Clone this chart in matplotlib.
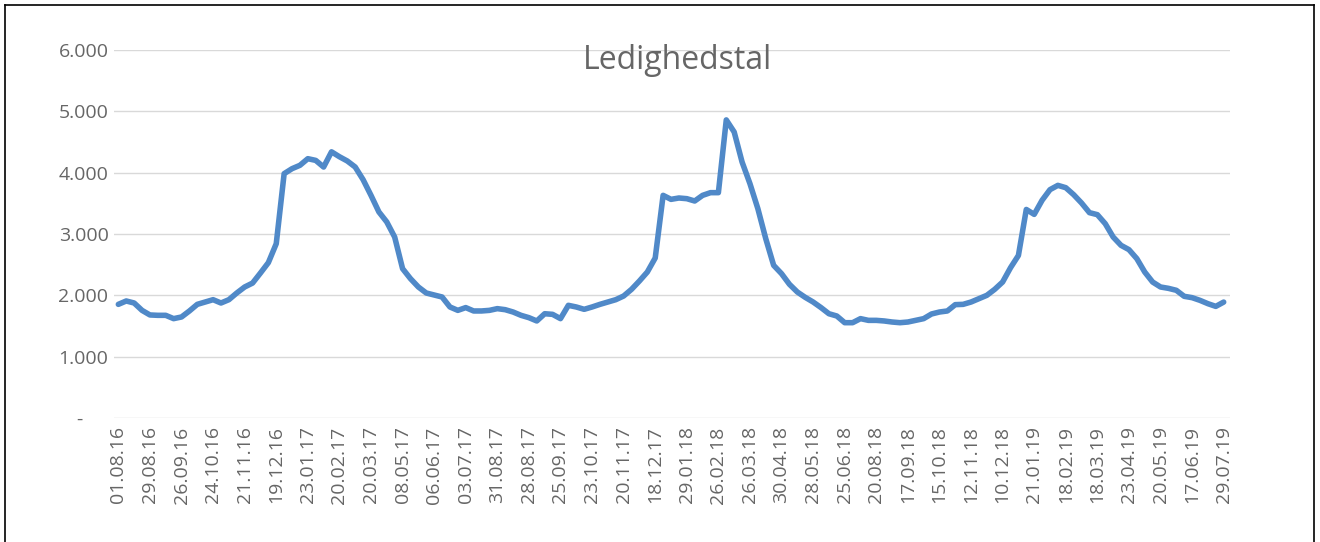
import matplotlib
matplotlib.use("Agg")
import matplotlib.pyplot as plt
from matplotlib.ticker import FuncFormatter, FixedLocator
from matplotlib.lines import Line2D

plt.rcParams['font.family'] = ['Open Sans', 'DejaVu Sans']

title = "Ledighedstal"

# weekly values, one per point (141 points)
values = [
    1853, 1908, 1875, 1755, 1680, 1674, 1674, 1620, 1647, 1745,
    1853, 1891, 1929, 1875, 1929, 2038, 2136, 2200, 2364, 2533,
    2842, 3984, 4065, 4120, 4228, 4200, 4092, 4340, 4260, 4190,
    4092, 3886, 3630, 3360, 3196, 2950, 2435, 2272, 2136, 2038,
    2005, 1973, 1810, 1755, 1800, 1745, 1745, 1755, 1783, 1766,
    1728, 1674, 1636, 1582, 1700, 1690, 1620, 1837, 1810, 1772,
    1810, 1853, 1891, 1929, 1989, 2098, 2234, 2380, 2609, 3630,
    3565, 3587, 3576, 3538, 3630, 3674, 3674, 4860, 4663, 4174,
    3820, 3413, 2924, 2489, 2353, 2180, 2054, 1967, 1891, 1800,
    1700, 1663, 1554, 1554, 1620, 1592, 1592, 1582, 1565, 1554,
    1565, 1592, 1620, 1696, 1728, 1745, 1848, 1853, 1891, 1946,
    2000, 2098, 2217, 2450, 2650, 3400, 3320, 3550, 3723, 3793,
    3755, 3641, 3505, 3348, 3315, 3168, 2951, 2815, 2745, 2598,
    2380, 2217, 2136, 2114, 2082, 1984, 1962, 1918, 1864, 1820,
    1890,
]

# labels shown on every 4th point
tick_labels = [
    "01.08.16", "29.08.16", "26.09.16", "24.10.16", "21.11.16", "19.12.16",
    "23.01.17", "20.02.17", "20.03.17", "08.05.17", "06.06.17", "03.07.17",
    "31.08.17", "28.08.17", "25.09.17", "23.10.17", "20.11.17", "18.12.17",
    "29.01.18", "26.02.18", "26.03.18", "30.04.18", "28.05.18", "25.06.18",
    "20.08.18", "17.09.18", "15.10.18", "12.11.18", "10.12.18", "21.01.19",
    "18.02.19", "18.03.19", "23.04.19", "20.05.19", "17.06.19", "29.07.19",
]
label_step = 4

y_ticks = [0, 1000, 2000, 3000, 4000, 5000, 6000]

grey = '#666666'

fig = plt.figure(figsize=(13.2, 5.42), dpi=100)
ax = fig.add_axes([114 / 1320, 1 - 418 / 542, (1230 - 114) / 1320, (418 - 50) / 542])

x = list(range(len(values)))
ax.plot(x, values, color='#5089C8', linewidth=4.0, solid_joinstyle='round',
        solid_capstyle='round', zorder=3)

ax.set_ylim(0, 6000)
ax.set_xlim(-0.55, len(values) - 1 + 0.8)

ax.yaxis.set_major_locator(FixedLocator(y_ticks))


def fmt(v, pos):
    if v == 0:
        return "-" + " " * 5
    return f"{int(v):,}".replace(",", ".")


ax.yaxis.set_major_formatter(FuncFormatter(fmt))
ax.set_xticks(x[::label_step])
ax.set_xticklabels(tick_labels, rotation=90)

ax.grid(axis='y', color='#D9D9D9', linewidth=1.0)
ax.set_axisbelow(True)
for s in ax.spines.values():
    s.set_visible(False)
ax.tick_params(axis='both', length=0, colors=grey, labelsize=14)
ax.tick_params(axis='y', pad=4)
ax.tick_params(axis='x', pad=6)

fig.text(677 / 1320, 1 - 60 / 542, title, ha='center', va='center',
         fontsize=23, color=grey)

# thin frame around the picture (open at the bottom)
fx0, fx1, fy1 = 5 / 1320, 1314 / 1320, 1 - 5 / 542
for xs, ys in [([fx0, fx1], [fy1, fy1]), ([fx0, fx0], [0, fy1]), ([fx1, fx1], [0, fy1])]:
    fig.add_artist(Line2D(xs, ys, transform=fig.transFigure, color='black', linewidth=1.2))

fig.savefig('out.png', dpi=100, facecolor='white')
